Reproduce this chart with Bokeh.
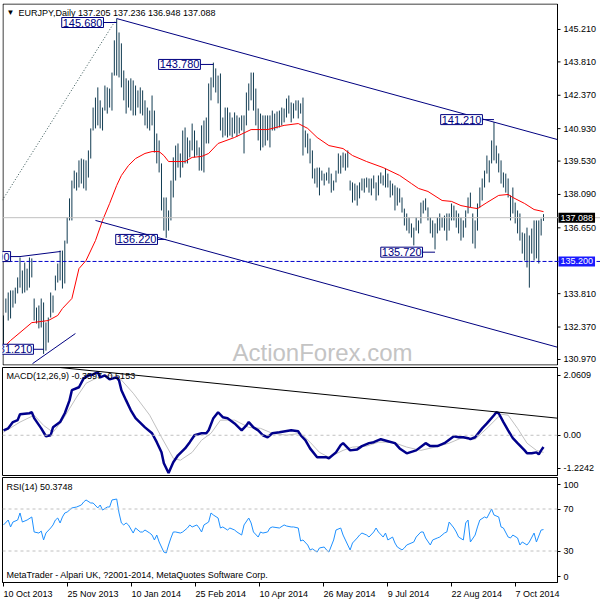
from bokeh.plotting import figure
from bokeh.layouts import column
from bokeh.models import Range1d, FixedTicker, Label, Span
from bokeh.core.properties import value
from bokeh.embed import file_html
from bokeh.resources import INLINE

# ---------------- data ----------------
highs = [132.87,133.60,133.86,133.95,133.95,134.07,134.51,135.37,134.81,135.15,
         134.89,135.37,135.33,133.60,133.21,133.30,133.60,133.43,132.57,132.78,
         133.86,133.73,134.59,135.11,135.67,135.67,136.10,137.10,137.92,138.69,
         139.12,139.04,139.56,139.64,139.60,139.56,139.99,140.94,141.84,142.27,
         142.71,142.15,141.84,142.79,142.71,142.66,143.35,144.74,145.68,145.08,
         144.61,143.44,143.10,143.01,143.10,143.01,142.79,142.58,142.71,142.58,
         142.15,141.84,141.71,142.36,141.71,140.72,140.42,139.43,137.96,137.96,
         137.40,138.69,139.69,140.20,140.29,139.86,140.85,140.98,140.55,140.42,
         141.15,140.85,140.42,140.12,141.07,141.28,141.41,142.88,143.14,143.78,
         143.53,143.22,143.31,141.41,141.84,141.84,141.63,141.41,141.63,141.50,
         141.41,141.50,141.50,142.49,142.88,143.35,143.35,142.66,141.80,141.58,
         141.50,141.50,141.50,141.50,141.71,141.58,141.67,141.71,141.84,141.80,
         142.23,142.36,142.06,142.02,142.15,142.15,142.02,142.27,140.85,140.72,
         140.50,139.99,139.21,139.25,139.25,139.12,138.99,139.04,139.25,138.99,
         138.69,139.12,139.86,139.77,139.90,139.86,139.99,138.69,138.61,138.56,
         138.48,138.61,138.78,138.78,138.82,138.78,138.78,138.91,138.61,138.91,
         139.04,138.91,139.21,138.99,138.69,138.56,138.48,138.39,138.35,137.96,
         137.48,137.27,137.10,136.84,136.66,137.10,136.97,137.74,137.83,137.92,
         137.53,137.10,136.97,136.84,137.10,137.27,137.10,137.18,137.27,137.27,
         137.70,137.61,137.40,137.27,137.10,136.97,137.40,137.96,138.17,137.27,
         136.97,137.70,138.39,138.78,139.12,139.77,139.56,140.42,141.21,140.20,
         139.86,139.56,139.04,138.99,138.78,138.05,138.39,137.74,137.40,137.27,
         136.45,136.41,136.66,136.32,136.62,136.97,136.97,136.97,137.05,137.24]
lows = [131.57,132.99,132.65,132.74,133.21,133.38,133.82,134.07,133.82,133.86,
        133.95,134.07,134.51,132.65,132.52,132.31,132.35,131.21,131.35,131.70,
        132.78,132.99,133.95,134.29,134.38,134.03,134.25,135.97,136.97,136.97,
        138.35,138.26,138.39,138.56,138.35,138.26,138.82,139.64,140.85,140.94,
        141.07,140.94,140.85,141.71,141.58,141.84,141.71,143.22,143.22,143.14,
        142.71,142.15,141.58,141.84,141.71,141.50,141.50,141.84,141.58,141.50,
        141.07,140.94,140.85,141.07,139.90,139.43,139.04,137.40,136.53,136.22,
        136.53,136.97,137.96,138.69,139.25,138.82,139.25,139.43,139.43,139.69,
        139.99,139.69,139.77,139.12,139.12,139.04,140.29,140.29,142.15,142.71,
        142.49,142.02,140.85,140.55,140.63,140.55,140.63,140.55,140.72,140.59,
        140.72,140.85,139.86,141.07,141.71,142.15,141.71,141.07,140.42,139.99,
        140.12,140.20,140.42,140.12,140.85,140.85,140.94,140.98,141.07,141.20,
        141.41,141.58,141.20,141.37,141.71,141.37,141.58,139.77,140.12,139.86,
        139.43,138.78,138.56,138.39,138.05,138.69,138.48,138.69,138.56,138.17,
        138.26,138.61,138.99,138.99,139.25,139.12,139.25,138.26,137.74,137.83,
        137.61,137.92,138.26,138.17,138.39,138.17,138.05,138.35,137.83,138.05,
        138.56,138.48,138.39,138.39,137.96,138.05,137.40,137.61,137.74,137.31,
        136.75,136.53,136.41,136.23,135.89,136.53,136.41,136.84,137.27,137.40,
        136.97,136.41,136.23,135.72,136.41,136.53,136.66,136.53,136.10,136.53,
        136.97,136.97,136.66,136.41,136.10,136.23,136.66,137.27,137.53,135.97,
        135.76,136.53,137.53,137.83,138.39,138.99,138.61,139.43,139.56,139.43,
        139.04,138.56,138.39,138.17,137.96,136.97,137.27,136.84,136.41,136.10,
        135.54,135.24,134.94,134.07,135.54,135.24,135.33,135.11,136.32,136.95]

ma_idx = [0,3,7,12,16,19,23,25,29,32,35,39,42,45,48,50,53,56,
          60,63,66,68,70,74,77,80,84,87,91,98,105,112,119,125,129,133,138,144,148,154,161,168,
          173,176,180,186,190,194,198,201,205,210,214,216,221,225,229]
ma_val = [131.48,131.79,132.13,132.56,132.61,132.65,132.87,133.17,133.60,134.89,135.24,136.10,136.97,137.70,138.48,138.91,139.34,139.64,
          139.86,139.94,139.94,139.77,139.51,139.51,139.51,139.69,139.73,139.86,140.29,140.55,140.89,140.89,141.07,141.15,140.94,140.55,140.20,140.07,139.77,139.51,139.25,138.91,
          138.56,138.35,138.22,137.83,137.79,137.61,137.53,137.48,137.74,138.05,138.09,137.96,137.70,137.44,137.35]

macd_idx = [0,2,4,6,7,11,12,13,16,18,20,21,24,26,28,29,32,34,36,38,
            40,41,43,45,48,49,50,52,54,56,60,63,65,67,68,70,72,74,77,79,
            81,84,86,87,89,91,93,95,98,101,103,104,106,108,110,112,114,117,122,125,
            126,128,130,133,137,138,141,143,144,147,150,152,155,157,160,163,166,168,171,175,
            179,181,184,187,191,193,195,197,198,200,203,205,208,209,210,212,214,216,218,221,
            222,224,226,227,228,229]
macd_val = [0.15,0.21,0.40,0.46,0.64,0.67,0.70,0.52,0.21,-0.03,
            0.00,0.24,0.40,0.67,1.06,1.37,1.46,1.73,1.82,1.85,
            1.92,1.76,1.82,1.70,1.76,1.67,1.37,1.06,0.76,0.52,
            0.24,0.06,-0.21,-0.52,-0.85,-1.15,-0.82,-0.61,-0.40,-0.21,
            0.00,0.06,0.06,0.15,0.52,0.70,0.55,0.52,0.36,0.15,
            0.30,0.40,0.24,0.15,0.00,-0.06,0.06,0.09,0.15,0.12,
            0.00,-0.15,-0.40,-0.67,-0.67,-0.70,-0.52,-0.30,-0.24,-0.46,
            -0.43,-0.33,-0.24,-0.21,-0.12,-0.18,-0.24,-0.40,-0.55,-0.46,
            -0.24,-0.33,-0.33,-0.24,-0.03,-0.06,-0.06,-0.09,-0.12,-0.06,
            0.21,0.36,0.61,0.70,0.67,0.40,0.15,-0.09,-0.24,-0.46,
            -0.55,-0.55,-0.52,-0.58,-0.46,-0.36]

sig_idx = [0,7,13,17,21,25,31,35,40,45,49,55,62,67,72,75,80,84,88,92,98,104,109,114,
           120,126,130,134,138,144,148,154,159,165,171,177,183,189,194,200,205,211,214,218,222,226,229]
sig_val = [0.09,0.40,0.61,0.30,0.09,0.46,1.16,1.58,1.76,1.82,1.76,1.28,0.61,-0.06,-0.70,-0.76,
           -0.52,-0.15,0.06,0.46,0.46,0.24,0.21,0.06,0.00,0.06,-0.21,-0.52,-0.67,-0.46,-0.36,-0.33,
           -0.21,-0.21,-0.36,-0.46,-0.36,-0.24,-0.09,-0.12,0.21,0.64,0.61,0.21,-0.24,-0.46,-0.52]

rsi_idx = [0,2,3,4,6,7,8,10,12,13,15,16,17,18,20,21,22,23,24,25,
           26,27,28,29,31,33,34,35,37,38,40,41,42,44,45,46,48,49,50,51,
           52,53,55,56,58,59,60,62,63,64,65,66,68,69,70,71,72,73,75,76,
           78,79,80,82,83,84,85,87,88,89,91,92,93,95,96,98,99,101,102,104,
           105,106,108,109,110,112,113,114,117,119,120,122,123,125,126,127,129,130,131,133,
           134,136,137,138,140,141,143,144,146,147,148,150,151,152,154,155,157,158,159,161,
           162,163,165,166,167,169,170,171,174,175,177,178,179,181,182,184,185,187,188,189,
           191,192,193,195,196,197,198,200,201,202,204,205,207,208,210,211,212,214,215,216,
           218,219,220,222,223,225,226,228,229]
rsi_val = [54.8,59.5,52.9,57.6,59.5,66.2,57.6,59.5,62.4,48.1,47.1,49.0,40.5,47.1,51.9,54.8,59.5,61.4,56.7,62.4,
           66.2,67.1,69.0,71.0,71.9,73.8,76.7,78.6,75.7,75.7,71.0,73.8,69.0,71.9,71.9,78.6,79.5,66.2,56.7,54.8,
           56.7,54.8,47.1,51.9,48.1,48.1,50.0,47.1,45.2,40.5,45.2,38.6,29.0,28.1,35.7,42.4,48.1,48.1,47.1,48.1,
           51.9,54.8,52.9,54.8,51.9,48.1,54.8,57.6,66.2,64.3,61.4,51.9,52.9,50.0,51.9,50.0,48.1,45.2,54.8,61.4,
           56.7,48.1,43.3,48.1,47.1,48.1,51.9,52.9,51.9,54.8,53.8,52.9,52.9,51.9,39.5,40.5,35.7,31.0,32.0,29.0,
           32.9,33.8,31.0,29.0,40.5,50.0,51.9,45.2,35.7,31.0,37.6,42.4,45.2,47.1,45.2,43.3,48.1,51.9,48.1,43.3,
           47.1,40.5,43.3,37.6,33.8,31.0,32.9,35.7,38.6,43.3,48.1,48.1,42.4,35.7,40.5,42.4,43.3,47.1,48.1,57.6,
           51.9,48.1,43.3,40.5,56.7,59.5,38.6,45.2,52.9,59.5,62.4,61.4,70.0,64.3,62.4,52.9,51.9,43.3,42.4,45.2,
           42.4,35.7,38.6,35.7,38.6,47.1,38.6,50.0,50.4]

price_ticks = [145.21, 143.81, 142.37, 140.93, 139.53, 138.09, 136.65, 133.81, 132.37, 130.97]
date_labels = ["10 Oct 2013", "25 Nov 2013", "10 Jan 2014", "25 Feb 2014", "10 Apr 2014",
               "26 May 2014", "9 Jul 2014", "22 Aug 2014", "7 Oct 2014"]
date_idx = [0, 27.1, 54.3, 81.4, 108.6, 135.7, 162.9, 190.0, 217.1]

swing_text = ["145.680", "143.780", "141.210", "136.220", "135.720", "131.210", "135.390"]
swing_price = [145.51, 143.70, 141.32, 136.15, 135.60, 131.41, 135.41]
swing_edge = [42.4, 83.5, 203.1, 65.3, 177.7, 12.7, 3.0]
swing_bar = [48, 89, 208, 69, 183, 17, 7]

upper_tl = ([48, 234.9], [145.68, 140.46])
lower_tl = ([39, 234.9], [136.97, 131.50])
small_up = ([7, 24.2], [135.41, 135.63])
small_low = ([12.3, 30.5], [130.79, 132.09])
dotted_tl = ([-0.5, 47.5], [137.84, 145.60])
macd_tl = ([24, 234.9], [2.06, 0.52])

last_price = 137.088
support = 135.20

# ---------------- layout constants ----------------
FONT = "Liberation Sans"
NAVY = "#000080"
BAR = "#123c52"
STEP = 540 / 229            # pixels per bar
X0 = -1 / STEP              # left frame edge
XR = 554 / STEP             # right edge of the chart area (price scale begins)
XEND = 597 / STEP           # right edge of the window

# approximate Arial advance widths (em) used to centre date labels on their start tick
CW = {" ": 0.278, ".": 0.278, "J": 0.5, "O": 0.778, "N": 0.722, "F": 0.611, "A": 0.667, "M": 0.833,
      "a": 0.556, "b": 0.556, "c": 0.5, "e": 0.556, "g": 0.556, "l": 0.222, "n": 0.556, "o": 0.556,
      "p": 0.556, "r": 0.333, "t": 0.278, "u": 0.556, "v": 0.5, "y": 0.5}


def text_px(t, size=9):
    return sum(CW.get(ch, 0.556) for ch in t) * size


def style_axis(ax):
    ax.major_tick_out = 3
    ax.major_tick_in = 0
    ax.minor_tick_out = 0
    ax.minor_tick_in = 0
    ax.major_label_standoff = 3
    ax.major_label_text_font = FONT
    ax.major_label_text_font_size = "9px"
    ax.major_label_text_color = "black"
    ax.axis_line_color = "black"
    ax.major_tick_line_color = "black"


def sub(fh, yr, top, bottom, xaxis=False):
    p = figure(frame_width=555, frame_height=fh, x_range=Range1d(X0, XR), y_range=yr,
               y_axis_location="right", x_axis_location=("below" if xaxis else None),
               toolbar_location=None, output_backend="svg", title=None,
               min_border_left=2, min_border_right=43, min_border_top=top,
               min_border_bottom=bottom)
    p.xgrid.visible = False
    p.ygrid.visible = False
    p.outline_line_color = "black"
    p.background_fill_color = "white"
    p.border_fill_color = "white"
    style_axis(p.yaxis[0])
    return p


def txt(p, x, y, t, size="9px", color="black", align="left", **kw):
    p.add_layout(Label(x=x, y=y, text=t, text_font=FONT, text_font_size=size,
                       text_color=color, text_align=align, text_baseline="middle", **kw))


# ---------------- main panel (frame covers the price scale too) ----------------
yr1 = Range1d(130.71, 146.33)
p1 = figure(frame_width=598, frame_height=362, x_range=Range1d(X0, XEND), y_range=yr1,
            x_axis_location=None, y_axis_location=None, toolbar_location=None,
            output_backend="svg", title=None, min_border_left=2, min_border_right=0,
            min_border_top=3, min_border_bottom=1)
p1.xgrid.visible = False
p1.ygrid.visible = False
p1.outline_line_color = None
p1.background_fill_color = "white"
p1.border_fill_color = "white"
ppu = 362 / (yr1.end - yr1.start)
hx, hy = 0.5 / STEP, 0.5 / ppu

p1.add_layout(Span(location=last_price, dimension="width", line_color="#c0c0c0", line_width=1))
p1.add_layout(Span(location=support, dimension="width", line_color="#0000cd", line_width=1, line_dash="4 2"))

p1.add_layout(Label(x=97.1, y=131.27, text="ActionForex.com", text_font=FONT, text_font_size="24px",
                    text_color="#c4c4c4", text_baseline="alphabetic"))

idx = list(range(len(highs)))
p1.segment(x0=idx, y0=lows, x1=idx, y1=highs, line_color=BAR, line_width=1)
p1.line(ma_idx, ma_val, line_color="red", line_width=1)

for xs, ys in (upper_tl, lower_tl, small_up, small_low):
    p1.line(xs, ys, line_color=NAVY, line_width=1)
p1.line(dotted_tl[0], dotted_tl[1], line_color="#2f4f4f", line_width=1, line_dash="1 2")

p1.segment(x0=swing_edge, y0=swing_price, x1=swing_bar, y1=swing_price, line_color=NAVY, line_width=1)
for t, e, pr in zip(swing_text, swing_edge, swing_price):
    p1.add_layout(Label(x=e, y=pr, text=t, text_font=FONT, text_font_size="11px", text_color=NAVY,
                        text_align="right", text_baseline="middle", background_fill_color="white",
                        border_line_color=NAVY, border_line_width=1, padding=1))

# panel border (chart area only) and price scale
p1.line([X0 + hx, XR, XR, X0 + hx, X0 + hx],
        [yr1.end - hy, yr1.end - hy, yr1.start + hy, yr1.start + hy, yr1.end - hy],
        line_color="black", line_width=1)
p1.segment(x0=[XR] * len(price_ticks), x1=[XR + 3 / STEP] * len(price_ticks),
           y0=price_ticks, y1=price_ticks, line_color="black", line_width=1)
p1.text(x=[XR + 6 / STEP] * len(price_ticks), y=price_ticks, text=["%.3f" % t for t in price_ticks],
        text_font=value(FONT), text_font_size="9px", text_color="black",
        text_align="left", text_baseline="middle")
p1.add_layout(Label(x=XR, y=last_price, x_offset=1, text="137.088", text_font=FONT,
                    text_font_size="9px", text_color="white", text_align="left", text_baseline="middle",
                    background_fill_color="black", padding=2))
p1.add_layout(Label(x=XR, y=support, x_offset=1, text="135.200", text_font=FONT,
                    text_font_size="9px", text_color="white", text_align="left", text_baseline="middle",
                    background_fill_color="#1a1aff", padding=2))

txt(p1, 1.3, 145.94, "\u25bc", size="8px")
txt(p1, 6.4, 145.94, "EURJPY,Daily  137.205 137.236 136.948 137.088")

# ---------------- MACD panel ----------------
p2 = sub(108, Range1d(-1.2242, 2.0609), 1, 1)
p2.yaxis[0].ticker = FixedTicker(ticks=[1.825, 0.0, -1.004])
p2.yaxis[0].major_label_overrides = {1.825: "2.0609", 0.0: "0.00", -1.004: "-1.2242"}
p2.add_layout(Span(location=0, dimension="width", line_color="#c0c0c0", line_width=1, line_dash="3 3"))
p2.line(sig_idx, sig_val, line_color="#c0c0c0", line_width=1)
p2.line(macd_idx, macd_val, line_color="#00008b", line_width=2.5)
p2.line(macd_tl[0], macd_tl[1], line_color="black", line_width=1)
txt(p2, 1.3, 1.79, "MACD(12,26,9) -0.3597 -0.5153")

# ---------------- RSI panel ----------------
p3 = sub(105, Range1d(0, 100), 1, 18, xaxis=True)
p3.yaxis[0].ticker = FixedTicker(ticks=[93.3, 70, 30, 5.7])
p3.yaxis[0].major_label_overrides = {93.3: "100", 70: "70", 30: "30", 5.7: "0"}
centers = [d + text_px(t) / 2 / STEP for d, t in zip(date_idx, date_labels)]
xa = p3.xaxis[0]
xa.ticker = FixedTicker(ticks=centers, minor_ticks=date_idx)
xa.major_label_overrides = {c: t for c, t in zip(centers, date_labels)}
xa.major_tick_out = 0
xa.major_tick_in = 0
xa.minor_tick_out = 4
xa.minor_tick_in = 0
xa.minor_tick_line_color = "black"
xa.major_label_standoff = 2
xa.major_label_text_font = FONT
xa.major_label_text_font_size = "9px"
xa.major_label_text_color = "black"
xa.axis_line_color = "black"
for lv in (70, 30):
    p3.add_layout(Span(location=lv, dimension="width", line_color="#c0c0c0", line_width=1, line_dash="3 3"))
p3.line(rsi_idx, rsi_val, line_color="#1e90ff", line_width=1)
txt(p3, 1.3, 91.4, "RSI(14) 50.3748")
txt(p3, 1.3, 6.7, "MetaTrader - Alpari UK, ?2001-2014, MetaQuotes Software Corp.")

layout = column(p1, p2, p3, spacing=0)
open("out.html", "w").write(file_html(layout, INLINE))
